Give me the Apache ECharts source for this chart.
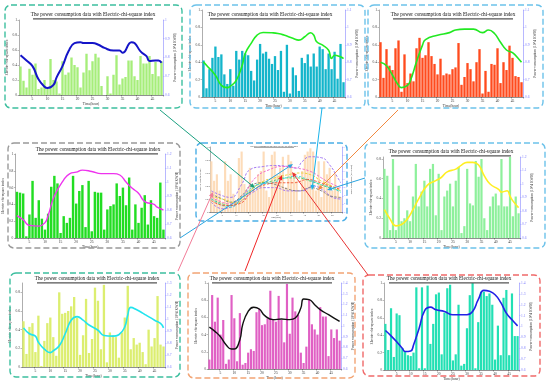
<!DOCTYPE html>
<html><head><meta charset="utf-8">
<script src="https://cdn.jsdelivr.net/npm/echarts@6/dist/echarts.min.js"></script>
<style>html,body{margin:0;padding:0;background:#fff}#c{width:550px;height:384px}</style>
</head><body><div id="c"></div>
<script>
const hours = ['1','2','3','4','5','6','7','8','9','10','11','12','13','14','15','16','17','18','19','20','21','22','23','24','25','26','27','28','29','30','31','32','33','34','35','36','37','38','39','40','41','42','43','44','45','46','47','48'];
const titleText = 'The power consumption data with Electric-chi-square index';
const leftName = 'Electric chi-square index';
const rightName = 'Power consumption (10^4 KWH)';
const xName = 'Time(hour)';

const p1Bars = [0.38,0.19,0.10,0.35,0.27,0.42,0.08,0.10,0.20,0.08,0.48,0.20,0.18,0.02,0.45,0.27,0.30,0.50,0.40,0.37,0.10,0.30,0.55,0.33,0.45,0.55,0.50,0.12,0.00,0.25,0.02,0.27,0.53,0.14,0.22,0.24,0.46,0.46,0.25,0.20,0.52,0.42,0.42,0.52,0.28,0.44,0.25,0.45];
const p1Line = [[1,0.812],[3,0.784],[5,0.754],[7,0.684],[9,0.644],[10,0.637],[12,0.654],[13,0.693],[15,0.754],[17,0.833],[19,0.877],[21,0.882],[22,0.877],[25,0.877],[27,0.868],[29,0.851],[32,0.837],[34,0.837],[35,0.825],[38,0.882],[39,0.877],[41,0.833],[43,0.807],[44,0.781],[46,0.784],[47,0.784],[48,0.772]];

const p2Bars = [0.42,0.10,0.32,0.45,0.58,0.46,0.49,0.26,0.15,0.32,0.13,0.53,0.43,0.53,0.50,0.48,0.30,0.19,0.43,0.61,0.50,0.52,0.44,0.38,0.47,0.31,0.53,0.06,0.60,0.04,0.34,0.25,0.07,0.45,0.39,0.49,0.35,0.50,0.35,0.58,0.55,0.32,0.50,0.32,0.52,0.21,0.61,0.17];
const p2Line = [[1,0.802],[2,0.783],[5,0.725],[7,0.667],[9,0.654],[10,0.662],[12,0.696],[14,0.783],[15,0.85],[17,0.908],[19,0.956],[21,0.971],[24,0.969],[26,0.965],[28,0.956],[31,0.937],[33,0.927],[35,0.946],[37,0.969],[38,0.956],[39,0.917],[41,0.898],[43,0.869],[44,0.821],[45,0.840],[47,0.831],[48,0.821]];

const p3Bars = [0.63,0.22,0.55,0.36,0.31,0.56,0.65,0.06,0.49,0.16,0.27,0.18,0.56,0.68,0.45,0.48,0.63,0.47,0.38,0.26,0.44,0.25,0.27,0.26,0.32,0.34,0.62,0.14,0.23,0.39,0.32,0.18,0.40,0.55,0.04,0.30,0.06,0.38,0.37,0.56,0.16,0.40,0.31,0.59,0.45,0.24,0.23,0.17];
const p3Line = [[1,0.80],[3,0.78],[5,0.725],[7,0.667],[8,0.654],[10,0.667],[11,0.696],[13,0.802],[15,0.898],[16,0.93],[20,0.955],[24,0.97],[26,0.985],[29,0.99],[32,0.99],[35,0.97],[37,0.985],[39,0.965],[41,0.915],[43,0.87],[45,0.855],[47,0.82],[48,0.80]];

const p4Bars = [0.55,0.54,0.53,0.02,0.28,0.68,0.24,0.45,0.23,0.10,0.29,0.61,0.74,0.65,0.06,0.26,0.18,0.24,0.74,0.41,0.56,0.63,0.13,0.68,0.08,0.55,0.54,0.54,0.10,0.34,0.38,0.40,0.65,0.50,0.60,0.39,0.72,0.10,0.40,0.18,0.36,0.51,0.16,0.45,0.26,0.24,0.66,0.10];
const p4Line = [[1,0.76],[3,0.73],[5,0.69],[8,0.685],[10,0.71],[11,0.76],[13,0.90],[16,1.015],[18,1.06],[20,1.07],[22,1.085],[25,1.075],[28,1.06],[32,1.06],[34,1.05],[36,1.0],[38,0.955],[40,0.92],[42,0.86],[45,0.84],[46,0.82],[48,0.80]];

const p5Bars = [0.78,0.48,0.58,0.33,0.15,0.78,0.48,0.58,0.28,0.18,0.83,0.93,0.43,0.33,0.68,0.43,0.33,0.58,0.63,0.93,0.33,0.23,0.88,0.93,0.58,0.68,0.85,0.38,0.88,0.78,0.53,0.48,0.18,0.63,0.88,0.93,0.98,0.93,0.33,0.78,0.23,0.78,0.58,0.68,0.33,0.58,0.38,0.23];
const p5UpperPurple = [[1,0.86],[5,0.80],[8,0.78],[12,0.94],[15,1.12],[20,1.16],[24,1.172],[29,1.16],[32,1.14],[34,1.22],[37,1.28],[41,1.268],[44,1.18],[47,1.02],[48,0.96]];
const p5LowerPurple = [[1,0.72],[5,0.64],[8,0.66],[12,0.74],[16,0.84],[20,0.90],[24,0.90],[29,0.86],[34,0.86],[38,0.92],[42,0.86],[45,0.78],[48,0.76]];
const p5Grey = [[1,0.82],[5,0.76],[8,0.72],[12,0.80],[16,0.94],[20,0.96],[24,0.94],[29,0.88],[33,0.86],[37,0.90],[41,0.86],[44,0.80],[48,0.78]];
const p5Pink = [[1,0.78],[5,0.72],[8,0.70],[12,0.78],[17,1.02],[22,1.12],[27,1.16],[32,1.14],[37,1.10],[41,1.02],[44,0.96],[48,0.90]];
const p5Green = [[1,0.76],[5,0.70],[8,0.68],[13,0.80],[18,0.94],[23,0.98],[28,1.02],[32,1.02],[37,0.98],[42,0.92],[48,0.86]];
const p5Yellow = [[1,0.79],[6,0.75],[10,0.71],[15,0.86],[20,0.98],[24,1.02],[29,1.06],[33,1.08],[37,1.06],[41,0.98],[46,0.90],[48,0.86]];
const p5Cyan = [[1,0.76],[5,0.68],[8,0.66],[13,0.82],[18,0.94],[23,0.96],[28,1.02],[32,1.04],[36,1.0],[41,0.94],[46,0.88],[48,0.84]];
const p5Red = [[1,0.74],[6,0.68],[11,0.70],[16,0.86],[21,0.94],[26,0.96],[31,0.96],[36,1.0],[39,0.98],[44,0.92],[48,0.88]];

const p6Bars = [0.70,0.63,0.08,0.80,0.08,0.53,0.17,0.20,0.28,0.17,0.42,0.75,0.32,0.47,0.58,0.32,0.70,0.75,0.23,0.65,0.08,0.42,0.48,0.55,0.32,0.58,0.72,0.05,0.12,0.70,0.35,0.33,0.78,0.62,0.80,0.20,0.08,0.32,0.42,0.45,0.33,0.80,0.32,0.32,0.82,0.22,0.42,0.25];
const p6Line = [[1,0.81],[3,0.74],[5,0.69],[7,0.70],[9,0.74],[11,0.81],[13,0.89],[16,0.99],[19,1.025],[21,1.05],[23,1.09],[26,1.11],[28,1.14],[30,1.16],[32,1.16],[34,1.14],[36,1.06],[38,1.0],[41,0.96],[42,0.94],[44,0.95],[45,0.91],[46,0.875],[48,0.825]];

const p7Bars = [0.49,0.14,0.43,0.47,0.16,0.55,0.01,0.28,0.47,0.53,0.32,0.12,0.80,0.57,0.58,0.60,0.65,0.75,0.53,0.13,0.34,0.73,0.15,0.30,0.85,0.71,0.19,0.88,0.05,0.37,0.34,0.32,0.10,0.37,0.53,0.87,0.19,0.31,0.24,0.26,0.16,0.03,0.40,0.22,0.31,0.76,0.24,0.22];
const p7Line = [[1,0.926],[3,0.877],[5,0.857],[6,0.806],[8,0.749],[10,0.72],[11,0.734],[13,0.777],[15,0.877],[17,0.99],[19,1.02],[21,0.99],[23,0.95],[26,0.906],[28,0.863],[31,0.857],[33,0.869],[35,0.934],[36,1.034],[37,1.097],[39,1.077],[41,1.049],[42,1.034],[45,0.99],[47,0.963],[48,0.926]];

const p8Bars = [0.11,0.86,0.55,0.83,0.40,0.57,0.06,0.11,0.86,0.59,0.09,0.65,0.05,0.07,0.19,0.23,0.21,0.66,0.70,0.51,0.52,0.59,0.91,0.57,0.55,0.85,0.57,0.31,0.99,0.41,0.83,0.67,0.63,0.19,0.07,0.26,0.81,0.52,0.46,0.40,0.72,0.61,0.61,0.15,0.46,0.36,0.46,0.33];
const p8Line = [[1,0.99],[3,0.95],[5,0.90],[7,0.826],[9,0.786],[10,0.786],[12,0.873],[13,1.012],[15,1.136],[17,1.174],[19,1.158],[21,1.096],[24,1.059],[27,1.065],[30,1.059],[32,1.074],[34,1.167],[35,1.251],[37,1.245],[39,1.198],[41,1.152],[44,1.105],[46,1.074],[48,1.043]];

const p9Bars = [0.53,0.23,0.71,0.15,0.65,0.63,0.25,0.21,0.17,0.16,0.20,0.95,0.02,0.95,0.02,0.97,0.30,0.53,0.87,0.89,0.18,0.66,0.94,0.98,0.11,0.18,0.75,0.05,0.07,0.48,0.86,1.00,0.02,0.55,0.90,0.90,0.85,0.88,0.75,0.12,0.51,0.17,0.83,0.92,0.17,0.88,0.39,0.39];
const p9Line = [[1,0.963],[3,0.914],[5,0.86],[7,0.80],[8,0.77],[10,0.775],[11,0.83],[13,0.985],[15,1.148],[17,1.178],[19,1.154],[22,1.138],[25,1.108],[28,1.108],[30,1.108],[32,1.138],[34,1.246],[36,1.332],[38,1.323],[40,1.292],[42,1.222],[44,1.123],[46,1.062],[48,1.006]];

function full(pairs){ const a = hours.map(()=>null); pairs.forEach(p=>{ a[p[0]-1]=p[1]; }); return a; }

const P = [
 {g:[19,20,144,75], bars:p1Bars, line:p1Line, bc:'#a6ee7a', lc:'#1414c8', lw:2, lmax:1, rmax:1.0, border:'#3dbf9f', t:[93,15]},
 {g:[202,10,143,87], bars:p2Bars, line:p2Line, bc:'#14b5cb', lc:'#22ee22', lw:1.6, lmax:1, rmax:1.1, border:'#6cc2ea', t:[270,15]},
 {g:[379,10,144,87], bars:p3Bars, line:p3Line, bc:'#ff4b1e', lc:'#22e822', lw:1.6, lmax:1, rmax:1.1, border:'#6cc2ea', t:[453,15]},
 {g:[15,154,150,84], bars:p4Bars, line:p4Line, bc:'#22dd22', lc:'#ee33ee', lw:1.4, lmax:1, rmax:1.2, border:'#999999', t:[98,150]},
 {g:[210,147,132,65], bars:p5Bars, line:null, bc:'#fddcb9', lmax:1, rmax:1.4, border:'#4aaee6', t:[274,146], small:true},
 {g:[383,157,137,81], bars:p6Bars, line:p6Line, bc:'#8ef09c', lc:'#ffee22', lw:1.6, lmax:0.82, rmax:1.2, border:'#6cc2ea', t:[451,152]},
 {g:[22,283,143,84], bars:p7Bars, line:p7Line, bc:'#dcee70', lc:'#22e4ee', lw:1.6, lmax:0.9, rmax:1.3, border:'#3dbf9f', t:[97,279]},
 {g:[208,283,133,86], bars:p8Bars, line:p8Line, bc:'#e060c4', lc:'#111111', lw:1.4, lmax:1, rmax:1.4, border:'#f2a474', t:[272,279]},
 {g:[384,283,135,87], bars:p9Bars, line:p9Line, bc:'#22e0b4', lc:'#2222e6', lw:1.6, lmax:1, rmax:1.4, border:'#f06a6a', t:[449,279]}
];
const borders = [[5,5,177,103],[190,5,175,103],[368,5,175,103],[8,143,172,105],[196,143,151,78],[365,143,180,105],[10,273,170,104],[188,273,167,105],[363,275,177,101]];

const FONT = 'Liberation Serif';
const grid=[], xAxis=[], yAxis=[], series=[];
P.forEach((p,i)=>{
  const fs = p.small ? 2.2 : 3.6;
  grid.push({left:p.g[0], top:p.g[1], width:p.g[2], height:p.g[3]});
  const iv = (idx)=> (idx+1)%5===0;
  xAxis.push({type:'category', gridIndex:i, data:hours, boundaryGap:true,
    axisLine:{lineStyle:{color:'#444', width:0.6}},
    axisTick:{show:true, interval:iv, length:1.5, lineStyle:{color:'#444', width:0.5}},
    axisLabel:{interval:iv, fontSize:fs, margin:2, color:'#333', fontFamily:FONT},
    name:xName, nameLocation:'middle', nameGap: p.small?4:6.5, nameTextStyle:{fontSize:fs, fontFamily:FONT, color:'#333'}});
  yAxis.push({type:'value', gridIndex:i, min:0, max:p.lmax, interval:0.2, position:'left',
    axisLine:{show:true, lineStyle:{color:'#777', width:0.6}},
    axisTick:{show:true, length:1.5, lineStyle:{width:0.5}},
    axisLabel:{fontSize:fs, margin:2, color:'#444', fontFamily:FONT, showMaxLabel: p.lmax===1},
    splitLine:{show:false},
    name:leftName, nameLocation:'middle', nameGap: p.small?5:9, nameRotate:90, nameTextStyle:{fontSize:fs, fontFamily:FONT, color:'#444'}});
  yAxis.push({type:'value', gridIndex:i, min:0.6, max:p.rmax, interval:0.1, position:'right',
    axisLine:{show:true, lineStyle:{color:'#9a9aff', width:0.7}},
    axisTick:{show:true, length:1.5, lineStyle:{color:'#9a9aff', width:0.5}},
    axisLabel:{fontSize:fs, margin:2, color:'#8080ff', fontFamily:FONT},
    splitLine:{show:false},
    name:rightName, nameLocation:'middle', nameGap: p.small?5:9, nameRotate:90, nameTextStyle:{fontSize:fs, fontFamily:FONT, color:'#333'}});
  series.push({type:'bar', xAxisIndex:i, yAxisIndex:2*i, data:p.bars, barCategoryGap:'22%', itemStyle:{color:p.bc}, silent:true});
  if (p.line) {
    series.push({type:'line', xAxisIndex:i, yAxisIndex:2*i+1, data:full(p.line), connectNulls:true, smooth:0.5, showSymbol:false, lineStyle:{color:p.lc, width:p.lw}, z:5});
  }
});
const centerLines = [
  [p5UpperPurple,'#9a6cf0'],[p5LowerPurple,'#9a6cf0'],[p5Grey,'#777777'],[p5Pink,'#f060c8'],
  [p5Green,'#44cc66'],[p5Yellow,'#e8d030'],[p5Cyan,'#30d8e0'],[p5Red,'#f05030']
];
centerLines.forEach(([d,c])=>{
  series.push({type:'line', xAxisIndex:4, yAxisIndex:9, data:full(d), connectNulls:true, smooth:0.5, showSymbol:false, lineStyle:{color:c, width:0.9, type:[2.5,1.5]}, z:5});
});

const graphic = [];
borders.forEach((b,i)=>{
  graphic.push({type:'rect', shape:{x:b[0], y:b[1], width:b[2], height:b[3], r:6}, style:{fill:null, stroke:P[i].border, lineWidth:1.4, lineDash:[6,3]}, z:1});
});
P.forEach(p=>{
  const small = !!p.small;
  graphic.push({type:'text', x:p.t[0], y:p.t[1], style:{text:titleText, fontSize: small?2:5.2, fontFamily:FONT, fill:'#111', align:'center', verticalAlign:'middle'}, z:10});
  const w = small ? 40 : 120;
  graphic.push({type:'rect', shape:{x:p.t[0]-w/2, y:p.t[1]+(small?1.3:3.2), width:w, height:small?0.5:1.3}, style:{fill:'#555'}, z:10});
});
function arrow(x1,y1,x2,y2,color){
  const a=Math.atan2(y2-y1,x2-x1), L=5, W=2.2;
  const bx=x2-L*Math.cos(a), by=y2-L*Math.sin(a);
  const px=-Math.sin(a)*W, py=Math.cos(a)*W;
  graphic.push({type:'line', shape:{x1:x1,y1:y1,x2:bx,y2:by}, style:{stroke:color, lineWidth:1}, z:100});
  graphic.push({type:'polygon', shape:{points:[[x2,y2],[bx+px,by+py],[bx-px,by-py]]}, style:{fill:color}, z:100});
}
arrow(160,110,255,188,'#1aa080');
arrow(322,108,312,190,'#1ab4ea');
arrow(398,110,318,190,'#f28a40');
arrow(180,238,293,164,'#2aa4e0');
arrow(365,178,327,190,'#2aa4e0');
arrow(178,271,213,192,'#f27c98');
arrow(245,271,282,175,'#f02424');
arrow(368,275,292,172,'#e83434');

const chart = echarts.init(document.getElementById('c'), null, {renderer:'canvas'});
chart.setOption({animation:false, backgroundColor:'#fff', grid, xAxis, yAxis, series, graphic});
</script></body></html>
